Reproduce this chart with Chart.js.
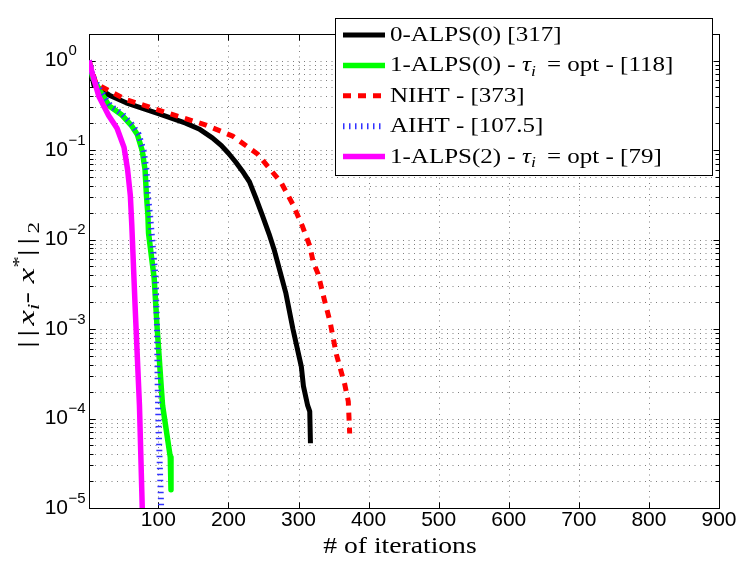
<!DOCTYPE html>
<html><head><meta charset="utf-8">
<script src="https://cdn.jsdelivr.net/npm/chart.js@4.4.1/dist/chart.umd.min.js"></script>
<style>html,body{margin:0;padding:0;background:#fff;}#wrap{width:739px;height:563px;}</style>
</head><body><div id="wrap"><canvas id="c" width="739" height="563"></canvas></div>
<script>
// ---------------- data ----------------
const alps0Iter = [1, 8, 30, 54, 101, 139, 158, 177, 190, 200, 210, 220, 230, 240, 248, 258, 265, 270, 277, 282, 292, 304, 307, 313, 316, 317];
const alps0Err  = [1.0, 0.53, 0.41, 0.337, 0.253, 0.20, 0.172, 0.137, 0.112, 0.092, 0.074, 0.058, 0.044, 0.028, 0.019, 0.0115, 0.0078, 0.0056, 0.0035, 0.0025, 0.001, 3.8e-4, 2.3e-4, 1.4e-4, 1.2e-4, 5.3e-5];

const alps1Iter = [1, 6, 16, 30, 47, 61, 70, 77, 81, 83, 85, 86, 94, 98, 104, 106, 117, 118];
const alps1Err  = [1.0, 0.65, 0.47, 0.31, 0.25, 0.19, 0.149, 0.098, 0.060, 0.031, 0.0192, 0.0117, 0.0037, 0.0011, 2.3e-4, 1.4e-4, 3.7e-5, 1.6e-5];

const nihtIter = [1, 11, 54, 83, 125, 168, 206, 241, 275, 292, 306, 316, 321, 328, 337, 345, 354, 366, 371, 373];
const nihtErr  = [1.0, 0.55, 0.365, 0.31, 0.242, 0.19, 0.143, 0.091, 0.0436, 0.0246, 0.0138, 0.0085, 0.0056, 0.0041, 0.0021, 0.0012, 5.2e-4, 2.4e-4, 1.55e-4, 6.8e-5];

const aihtIter = [1, 7, 17, 32, 49, 63, 72, 79, 83, 85, 88, 96, 98, 99, 100, 102, 104, 107];
const aihtErr  = [1.0, 0.65, 0.47, 0.31, 0.25, 0.19, 0.149, 0.098, 0.060, 0.031, 0.0192, 0.0037, 0.0011, 2.3e-4, 1.0e-4, 3.0e-5, 1.0e-5, 4.0e-6];

const alps2Iter = [1, 6, 15, 29, 41, 51, 56, 60, 62, 67, 73, 77, 79];
const alps2Err  = [1.0, 0.70, 0.40, 0.243, 0.175, 0.107, 0.061, 0.031, 0.015, 0.00165, 1.4e-4, 1.0e-5, 4.0e-6];

const seriesNames = ['0-ALPS(0) [317]', '1-ALPS(0) - τi = opt - [118]', 'NIHT - [373]', 'AIHT - [107.5]', '1-ALPS(2) - τi = opt - [79]'];
const xTicks = [100, 200, 300, 400, 500, 600, 700, 800, 900];
const yDecades = [1e-5, 1e-4, 1e-3, 1e-2, 1e-1, 1];
const yBaseLabel = '10';
const yExponents = ['\u22125', '\u22124', '\u22123', '\u22122', '\u22121', '0'];
const xTitle = [{t: '# of iterations'}];
const yTitle = [{t: '||', sp: 3}, {t: 'x', italic: true}, {t: 'i', italic: true, sub: true}, {t: '- '}, {t: 'x', italic: true}, {t: '*', sup: true}, {t: '||', sp: 3}, {t: '2', sub: true}];
const legendLabels = [
  [{t: '0-ALPS(0) [317]'}],
  [{t: '1-ALPS(0) - '}, {t: 'τ', italic: true}, {t: 'i', italic: true, sub: true, gap: 4}, {t: ' = opt - [118]'}],
  [{t: 'NIHT - [373]'}],
  [{t: 'AIHT - [107.5]'}],
  [{t: '1-ALPS(2) - '}, {t: 'τ', italic: true}, {t: 'i', italic: true, sub: true, gap: 4}, {t: ' = opt - [79]'}]
];

// ---------------- helpers ----------------
const SERIF = '"Liberation Serif", "Times New Roman", serif';
const SANS = '"Liberation Sans", Arial, Helvetica, sans-serif';
function pts(it, err) { return it.map((x, i) => ({x: x, y: err[i]})); }
function isDecade(v) { const l = Math.log10(v); return Math.abs(l - Math.round(l)) < 1e-9; }
function yTickValues() {
  const out = [];
  yDecades.forEach(d => { for (let k = 1; k <= 9; k++) { const v = d * k; if (v <= 2 + 1e-12) out.push(+v.toPrecision(6)); } });
  return out;
}
function segFont(s, size) {
  const sz = (s.sub || s.sup) ? Math.round(size * 0.68) : size;
  return (s.italic ? 'italic ' : '') + sz + 'px ' + SERIF;
}
function drawRich(ctx, segs, x, y, o) {
  const size = o.size, sx = o.sx || 1;
  let total = 0;
  const ws = segs.map(s => {
    ctx.font = segFont(s, size);
    ctx.letterSpacing = (s.sp || 0) + 'px';
    const w = ctx.measureText(s.t).width + (s.gap || 0);
    total += w; return w;
  });
  ctx.save();
  ctx.translate(x, y);
  ctx.scale(sx, 1);
  ctx.fillStyle = '#000';
  ctx.textBaseline = 'alphabetic';
  ctx.textAlign = 'left';
  let cx = o.align === 'center' ? -total / 2 : 0;
  segs.forEach((s, i) => {
    ctx.font = segFont(s, size);
    ctx.letterSpacing = (s.sp || 0) + 'px';
    const dy = s.sub ? size * 0.22 : (s.sup ? -size * 0.42 : 0);
    ctx.fillText(s.t, cx, dy);
    cx += ws[i];
  });
  ctx.letterSpacing = '0px';
  ctx.restore();
}

const matlabPlugin = {
  id: 'matlab',
  beforeDatasetsDraw(chart) {
    const ctx = chart.ctx, a = chart.chartArea, xs = chart.scales.x, ys = chart.scales.y;
    const L = Math.round(a.left) + 0.5, R = Math.round(a.right) + 0.5, T = Math.round(a.top) + 0.5, B = Math.round(a.bottom) + 0.5;
    ctx.save();
    ctx.lineWidth = 1;
    ctx.strokeStyle = 'rgba(0,0,0,0.5)';
    ctx.setLineDash([1, 4.5]);
    ctx.beginPath();
    xs.ticks.forEach(t => { const p = Math.round(xs.getPixelForValue(t.value)) + 0.5; if (p < R - 1) { ctx.moveTo(p, B); ctx.lineTo(p, T); } });
    ys.ticks.forEach(t => { const p = Math.round(ys.getPixelForValue(t.value)) + 0.5; if (p > T + 1 && p < B - 1) { ctx.moveTo(L, p); ctx.lineTo(R, p); } });
    ctx.stroke();
    ctx.setLineDash([]);
    ctx.strokeStyle = '#000';
    ctx.beginPath();
    xs.ticks.forEach(t => { const p = Math.round(xs.getPixelForValue(t.value)) + 0.5; ctx.moveTo(p, B); ctx.lineTo(p, B - 6); ctx.moveTo(p, T); ctx.lineTo(p, T + 6); });
    ys.ticks.forEach(t => { const p = Math.round(ys.getPixelForValue(t.value)) + 0.5; const len = isDecade(t.value) ? 6 : 4; ctx.moveTo(L, p); ctx.lineTo(L + len, p); ctx.moveTo(R, p); ctx.lineTo(R - len, p); });
    ctx.stroke();
    ctx.strokeRect(L, T, R - L, B - T);
    ctx.restore();
  },
  afterDraw(chart) {
    const ctx = chart.ctx, a = chart.chartArea, ys = chart.scales.y;
    ctx.save();
    ctx.fillStyle = '#000';
    ctx.font = '15px ' + SANS;
    ctx.textAlign = 'left';
    ctx.textBaseline = 'middle';
    const ex = a.left - chart.options.scales.y.ticks.padding + 0.5;
    yDecades.forEach((d, i) => { const p = ys.getPixelForValue(d); ctx.fillText(yExponents[i], ex, p - 9.5); });
    drawRich(ctx, xTitle, (a.left + a.right) / 2 - 4, 553, {size: 24, sx: 1.15, align: 'center'});
    ctx.save();
    ctx.translate(34, 285);
    ctx.rotate(-Math.PI / 2);
    drawRich(ctx, yTitle, 0, 0, {size: 24, sx: 1.45, align: 'center'});
    ctx.restore();
    const bx0 = 335.5, by0 = 18.5, bx1 = 712.5, by1 = 175.5;
    ctx.fillStyle = '#fff';
    ctx.fillRect(bx0, by0, bx1 - bx0, by1 - by0);
    ctx.strokeStyle = '#000'; ctx.lineWidth = 1;
    ctx.strokeRect(bx0, by0, bx1 - bx0, by1 - by0);
    chart.data.datasets.forEach((ds, k) => {
      const ry = 35 + 30.4 * k;
      ctx.save();
      ctx.strokeStyle = ds.borderColor; ctx.lineWidth = ds.borderWidth;
      ctx.setLineDash(ds.borderDash || []); ctx.lineCap = 'butt';
      ctx.beginPath(); ctx.moveTo(343, ry); ctx.lineTo(385, ry); ctx.stroke();
      ctx.restore();
      drawRich(ctx, legendLabels[k], 390, ry + 6, {size: 20, sx: 1.25});
    });
    ctx.restore();
  }
};

function ds(label, it, err, color, width, dash, order) {
  return {label: label, data: pts(it, err), borderColor: color, backgroundColor: color, borderWidth: width,
    borderDash: dash, borderCapStyle: 'butt', borderJoinStyle: 'round', pointRadius: 0, pointHoverRadius: 0,
    tension: 0, fill: false, clip: 0, order: order};
}

new Chart(document.getElementById('c'), {
  type: 'line',
  data: {datasets: [
    ds(seriesNames[0], alps0Iter, alps0Err, '#000000', 5, [], 4),
    ds(seriesNames[1], alps1Iter, alps1Err, '#00ff00', 5.5, [], 3),
    ds(seriesNames[2], nihtIter, nihtErr, '#ff0000', 5, [8, 7], 2),
    ds(seriesNames[3], aihtIter, aihtErr, '#3232ff', 6, [1.5, 4.5], 1),
    ds(seriesNames[4], alps2Iter, alps2Err, '#ff00ff', 5.5, [], 0)
  ]},
  options: {
    responsive: false, devicePixelRatio: 1, animation: false,
    layout: {padding: {top: 11, right: 20, left: 0, bottom: 0}},
    plugins: {legend: {display: false}, tooltip: {enabled: false}, title: {display: false}},
    events: [],
    scales: {
      x: {type: 'linear', min: 1, max: 900,
        afterBuildTicks: s => { s.ticks = xTicks.map(v => ({value: v})); },
        afterFit: s => { s.height = 55; },
        grid: {display: false, drawTicks: false}, border: {display: false},
        ticks: {color: '#000', font: {family: SANS, size: 21}, padding: 0, maxRotation: 0, autoSkip: false,
          callback: v => String(v)}},
      y: {type: 'logarithmic', min: 1e-5, max: 2,
        afterBuildTicks: s => { s.ticks = yTickValues().map(v => ({value: v})); },
        afterFit: s => { s.width = 89; },
        grid: {display: false, drawTicks: false}, border: {display: false},
        ticks: {color: '#000', font: {family: SANS, size: 21}, padding: 21, autoSkip: false,
          callback: v => isDecade(v) ? yBaseLabel : ''}}
    }
  },
  plugins: [matlabPlugin]
});
</script>
</body></html>
